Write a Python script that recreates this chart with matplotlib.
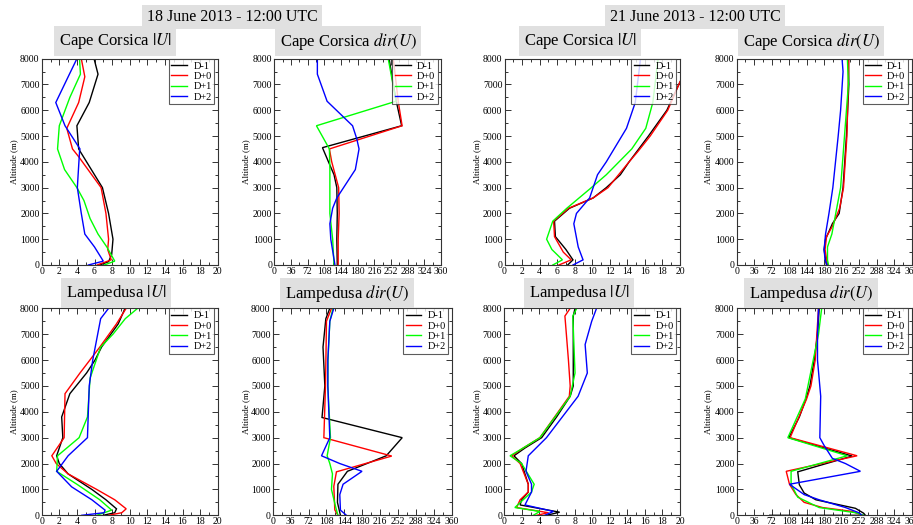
import matplotlib
matplotlib.use("Agg")
import matplotlib.pyplot as plt
from matplotlib.ticker import MultipleLocator

plt.rcParams['font.family'] = ['Liberation Serif', 'DejaVu Serif']
plt.rcParams['mathtext.fontset'] = 'stix'

W, H = 913, 525
DPI = 100

series_labels = ["D-1", "D+0", "D+1", "D+2"]
series_colors = ["#000000", "#ff0000", "#00ff00", "#0000ff"]

day_titles = ["18 June 2013 - 12:00 UTC", "21 June 2013 - 12:00 UTC"]
panel_titles = [
    ["Cape Corsica $|U|$", "Cape Corsica $dir(U)$", "Cape Corsica $|U|$", "Cape Corsica $dir(U)$"],
    ["Lampedusa $|U|$", "Lampedusa $dir(U)$", "Lampedusa $|U|$", "Lampedusa $dir(U)$"],
]
ylabel = "Altitude (m)"
speed_ticks = [0, 2, 4, 6, 8, 10, 12, 14, 16, 18, 20]
dir_ticks = [0, 36, 72, 108, 144, 180, 216, 252, 288, 324, 360]
alt_ticks = [0, 1000, 2000, 3000, 4000, 5000, 6000, 7000, 8000]

# ---------------- data: (altitudes, values) per series ----------------
# Panel 1: 18 June, Cape Corsica |U|
cc18_u_dm1_z = [0, 130, 400, 1000, 2000, 3000, 4500, 5400, 6300, 7400, 8000]
cc18_u_dm1_v = [6.6, 7.6, 7.95, 8.1, 7.6, 6.9, 4.2, 4.0, 5.4, 6.4, 5.95]
cc18_u_d0_z = [0, 200, 600, 1000, 2000, 3000, 4200, 4500, 5300, 6300, 7300, 8000]
cc18_u_d0_v = [6.3, 7.9, 7.5, 7.6, 7.3, 6.75, 4.2, 3.5, 2.85, 4.2, 4.9, 4.5]
cc18_u_d1_z = [0, 150, 700, 1200, 1800, 2500, 3000, 3700, 4500, 5400, 6500, 7400, 8000]
cc18_u_d1_v = [7.1, 8.3, 7.4, 6.4, 5.5, 4.8, 4.0, 2.6, 1.8, 2.0, 3.2, 4.4, 4.3]
cc18_u_d2_z = [0, 150, 700, 1200, 2000, 3000, 4400, 4500, 5400, 6300, 7400, 8000]
cc18_u_d2_v = [5.3, 7.0, 6.0, 4.9, 4.5, 4.05, 4.3, 4.35, 2.65, 1.6, 3.15, 4.0]

# Panel 2: 18 June, Cape Corsica dir(U)
cc18_d_dm1_z = [0, 1000, 2000, 3000, 3500, 4000, 4550, 5400, 6300, 7000, 8000]
cc18_d_dm1_v = [136, 135, 136, 135, 129, 117, 104, 275, 264, 257, 248]
cc18_d_d0_z = [0, 1000, 2000, 3000, 4000, 4500, 5400, 6300, 8000]
cc18_d_d0_v = [138, 138, 140, 139, 124, 119, 276, 268, 257]
cc18_d_d1_z = [0, 1000, 2000, 3700, 4500, 5400, 6350, 8000]
cc18_d_d1_v = [129, 126, 120, 120, 119, 91, 263, 246]
cc18_d_d2_z = [0, 1000, 1600, 2200, 2600, 3700, 4500, 4900, 5400, 6350, 7400, 8000]
cc18_d_d2_v = [131, 122, 120, 126, 135, 175, 183, 178, 169, 114, 93, 93]

# Panel 3: 21 June, Cape Corsica |U|
cc21_u_dm1_z = [0, 200, 600, 1100, 1700, 2200, 2600, 3000, 3500, 4000, 5000, 6000, 7100, 8000]
cc21_u_dm1_v = [7.2, 7.8, 7.0, 5.8, 5.7, 7.4, 10.1, 11.6, 13.2, 14.2, 16.4, 18.5, 20.0, 21.5]
cc21_u_d0_z = [0, 200, 500, 1100, 1700, 2200, 2600, 3000, 4000, 4400, 5000, 6000, 7100, 8000]
cc21_u_d0_v = [6.2, 7.6, 6.7, 5.7, 5.6, 7.3, 10.1, 11.8, 14.2, 15.2, 16.6, 18.6, 20.0, 21.5]
cc21_u_d1_z = [0, 200, 600, 1000, 1700, 2200, 3000, 3500, 4500, 5300, 6300, 8000]
cc21_u_d1_v = [5.5, 6.6, 5.4, 4.8, 5.5, 7.1, 9.9, 11.6, 14.5, 16.1, 16.9, 17.5]
cc21_u_d2_z = [0, 200, 700, 1600, 2000, 2600, 3000, 3500, 4000, 5300, 6300, 8000]
cc21_u_d2_v = [7.8, 8.95, 8.4, 7.9, 8.2, 9.7, 10.1, 10.6, 11.6, 13.9, 14.9, 15.5]

# Panel 4: 21 June, Cape Corsica dir(U)
cc21_d_dm1_z = [0, 200, 600, 1000, 1600, 2000, 3000, 5000, 7000, 8000]
cc21_d_dm1_v = [185, 183, 180, 183, 197, 211, 219, 226, 231, 230]
cc21_d_d0_z = [0, 600, 1100, 1500, 2200, 3000, 5000, 8000]
cc21_d_d0_v = [187, 182, 185, 197, 212, 220, 227, 231]
cc21_d_d1_z = [0, 200, 700, 1200, 2000, 3000, 5000, 7000, 8000]
cc21_d_d1_v = [189, 187, 187, 196, 204, 214, 222, 230, 228]
cc21_d_d2_z = [0, 200, 600, 1200, 2000, 3000, 5000, 6000, 7500, 8000]
cc21_d_d2_v = [186, 182, 180, 183, 190, 198, 209, 214, 219, 217]

# Panel 5: 18 June, Lampedusa |U|
la18_u_dm1_z = [0, 100, 250, 600, 1000, 1600, 2000, 2300, 3000, 3800, 4700, 5500, 6000, 6500, 7400, 8000]
la18_u_dm1_v = [7.0, 8.3, 8.5, 7.3, 5.7, 3.0, 2.0, 1.7, 2.4, 2.27, 3.2, 5.1, 6.06, 6.8, 8.7, 9.47]
la18_u_d0_z = [0, 100, 250, 600, 1000, 1600, 2000, 2300, 3000, 4700, 5500, 6500, 7400, 8000]
la18_u_d0_v = [7.6, 9.1, 9.6, 8.3, 6.25, 3.0, 1.65, 1.15, 2.55, 2.65, 4.35, 6.6, 8.5, 9.6]
la18_u_d1_z = [0, 200, 600, 1200, 1700, 2300, 3000, 3800, 5300, 6500, 7000, 7600, 8000]
la18_u_d1_v = [6.25, 7.95, 6.6, 4.0, 1.7, 1.8, 4.25, 5.2, 5.5, 6.7, 8.1, 9.5, 10.9]
la18_u_d2_z = [0, 100, 200, 600, 1100, 1700, 2300, 3000, 5000, 6000, 6800, 7600, 8000]
la18_u_d2_v = [4.55, 7.1, 7.2, 5.7, 3.4, 1.7, 3.0, 5.2, 5.4, 5.8, 6.25, 6.7, 7.6]

# Panel 6: 18 June, Lampedusa dir(U)
la18_d_dm1_z = [0, 500, 1200, 1700, 2300, 3000, 3780, 5000, 6500, 7600, 8000]
la18_d_dm1_v = [136, 130, 131, 150, 228, 260, 99, 104.7, 101, 106.7, 114.7]
la18_d_d0_z = [0, 210, 1120, 1680, 2290, 3000, 5000, 7500, 8000]
la18_d_d0_v = [131, 124.7, 122.7, 128, 239, 102.7, 106, 108, 118]
la18_d_d1_z = [0, 300, 1000, 1600, 2000, 2300, 3000, 5000, 6000, 7500, 8000]
la18_d_d1_v = [131, 126.7, 118, 120, 114.7, 109.3, 116, 110.7, 111, 114.7, 121]
la18_d_d2_z = [0, 200, 800, 1200, 1700, 2000, 2300, 3000, 5000, 6000, 7500, 8000]
la18_d_d2_v = [148, 136, 134.7, 141.3, 179.3, 134.7, 98, 114.7, 110.7, 110.7, 114.7, 122.7]

# Panel 7: 21 June, Lampedusa |U|
la21_u_dm1_z = [0, 120, 400, 600, 900, 1200, 2000, 2300, 2600, 3000, 3800, 4600, 5000, 7700, 8000]
la21_u_dm1_v = [4.8, 6.3, 1.8, 1.97, 2.73, 2.73, 1.97, 1.1, 2.35, 4.25, 5.95, 7.5, 7.85, 7.85, 8.05]
la21_u_d0_z = [0, 100, 300, 600, 900, 1200, 2000, 2300, 2600, 3000, 4600, 5000, 6000, 7700, 8000]
la21_u_d0_v = [3.7, 5.0, 1.4, 1.8, 2.73, 2.73, 1.8, 0.85, 2.15, 4.05, 7.4, 7.5, 7.3, 6.9, 7.5]
la21_u_d1_z = [0, 150, 300, 600, 900, 1200, 2000, 2300, 2600, 3000, 4600, 5500, 7700, 8000]
la21_u_d1_v = [3.3, 4.05, 1.2, 2.15, 3.1, 3.4, 1.97, 0.65, 2.15, 4.05, 7.5, 8.05, 7.8, 8.25]
la21_u_d2_z = [0, 150, 400, 900, 1200, 1700, 2300, 3000, 4600, 5500, 6600, 7500, 8000]
la21_u_d2_v = [4.6, 5.6, 2.35, 3.1, 3.1, 2.47, 2.73, 4.8, 8.4, 9.45, 9.2, 9.95, 10.5]

# Panel 8: 21 June, Lampedusa dir(U)
la21_d_dm1_z = [0, 0, 80, 270, 600, 860, 1180, 1680, 2290, 3000, 3800, 4500, 5000, 6000, 7000, 8000]
la21_d_dm1_v = [68, 265, 261.5, 244.6, 163, 139, 129, 125.7, 237.8, 107.3, 129, 142.7, 150.8, 159.6, 166.4, 170]
la21_d_d0_z = [0, 150, 300, 500, 800, 1200, 1700, 2300, 3000, 4500, 5000, 6000, 8000]
la21_d_d0_v = [258, 237.8, 176.6, 139, 122, 108.7, 102, 248, 110, 144, 152.9, 161.7, 168.5]
la21_d_d1_z = [0, 100, 300, 700, 1200, 1700, 2300, 3000, 4500, 6000, 7000, 8000]
la21_d_d1_v = [261.5, 244.6, 169.8, 125.7, 112, 112, 227.6, 105.3, 141.3, 157.6, 168.5, 175]
la21_d_d2_z = [0, 100, 300, 600, 800, 1200, 1700, 2000, 2200, 2700, 3000, 4600, 6000, 7000, 8000]
la21_d_d2_v = [258, 251.4, 224, 169.8, 139, 108.7, 254.8, 224, 197, 180, 171.2, 173, 166.4, 166.4, 168.5]

panels = [
    [
        ([cc18_u_dm1_z, cc18_u_d0_z, cc18_u_d1_z, cc18_u_d2_z], [cc18_u_dm1_v, cc18_u_d0_v, cc18_u_d1_v, cc18_u_d2_v], "u"),
        ([cc18_d_dm1_z, cc18_d_d0_z, cc18_d_d1_z, cc18_d_d2_z], [cc18_d_dm1_v, cc18_d_d0_v, cc18_d_d1_v, cc18_d_d2_v], "d"),
        ([cc21_u_dm1_z, cc21_u_d0_z, cc21_u_d1_z, cc21_u_d2_z], [cc21_u_dm1_v, cc21_u_d0_v, cc21_u_d1_v, cc21_u_d2_v], "u"),
        ([cc21_d_dm1_z, cc21_d_d0_z, cc21_d_d1_z, cc21_d_d2_z], [cc21_d_dm1_v, cc21_d_d0_v, cc21_d_d1_v, cc21_d_d2_v], "d"),
    ],
    [
        ([la18_u_dm1_z, la18_u_d0_z, la18_u_d1_z, la18_u_d2_z], [la18_u_dm1_v, la18_u_d0_v, la18_u_d1_v, la18_u_d2_v], "u"),
        ([la18_d_dm1_z, la18_d_d0_z, la18_d_d1_z, la18_d_d2_z], [la18_d_dm1_v, la18_d_d0_v, la18_d_d1_v, la18_d_d2_v], "d"),
        ([la21_u_dm1_z, la21_u_d0_z, la21_u_d1_z, la21_u_d2_z], [la21_u_dm1_v, la21_u_d0_v, la21_u_d1_v, la21_u_d2_v], "u"),
        ([la21_d_dm1_z, la21_d_d0_z, la21_d_d1_z, la21_d_d2_z], [la21_d_dm1_v, la21_d_d0_v, la21_d_d1_v, la21_d_d2_v], "d"),
    ],
]

# ---------------- layout (pixels) ----------------
col_x = [
    [(41.7, 217.7), (274.3, 441.0), (504.5, 680.0), (736.7, 911.5)],
    [(41.7, 217.7), (272.7, 452.0), (504.3, 680.0), (736.7, 911.5)],
]
row_y = [(58.7, 265.0), (308.3, 515.3)]
title_cx = [[115, 348, 580, 811], [116, 347, 579, 811]]
title_cy = [41, 293]
ylabel_x = [14, 246, 477, 708]
day_cx = [232, 695]
day_cy = 17

fig = plt.figure(figsize=(W / DPI, H / DPI), dpi=DPI)
fig.patch.set_facecolor("white")

def fx(px):
    return px / W

def fy(py):
    return 1 - py / H

for r in range(2):
    for c in range(4):
        x0, x1 = col_x[r][c]
        y0, y1 = row_y[r]
        ax = fig.add_axes([fx(x0), fy(y1), (x1 - x0) / W, (y1 - y0) / H])
        zs, vs, kind = panels[r][c]
        for z, v, lab, col in zip(zs, vs, series_labels, series_colors):
            ax.plot(v, z, color=col, lw=1.0, label=lab, solid_joinstyle="miter")
        ax.set_ylim(0, 8000)
        if kind == "u":
            ax.set_xlim(0, 20)
            ax.set_xticks(speed_ticks)
            ax.xaxis.set_minor_locator(MultipleLocator(1))
        else:
            ax.set_xlim(0, 360)
            ax.set_xticks(dir_ticks)
            ax.xaxis.set_minor_locator(MultipleLocator(18))
        ax.set_yticks(alt_ticks)
        ax.yaxis.set_minor_locator(MultipleLocator(500))
        ax.tick_params(which="both", direction="in", top=True, right=True,
                       labelsize=7, width=0.7, pad=1.5, colors="#333333", labelcolor="black")
        ax.tick_params(which="major", length=4.5)
        ax.tick_params(which="minor", length=2.5)
        for s in ax.spines.values():
            s.set_linewidth(0.8)
            s.set_color("#333333")
        leg = ax.legend(loc="upper right", bbox_to_anchor=(0.98, 1.0), borderaxespad=0.0,
                        fontsize=7.5, frameon=True, fancybox=False, handlelength=1.5,
                        handletextpad=0.6, labelspacing=0.1, borderpad=0.25)
        leg.get_frame().set_edgecolor("#333333")
        leg.get_frame().set_linewidth(0.8)
        fig.text(fx(ylabel_x[c]), fy((y0 + y1) / 2), ylabel, rotation=90,
                 ha="center", va="center", fontsize=6.5)
        fig.text(fx(title_cx[r][c]), fy(title_cy[r]), panel_titles[r][c],
                 ha="center", va="center", fontsize=12,
                 bbox=dict(facecolor="#e0e0e0", edgecolor="none", pad=3.5))

for k in range(2):
    fig.text(fx(day_cx[k]), fy(day_cy), day_titles[k], ha="center", va="center",
             fontsize=11.5, bbox=dict(facecolor="#e0e0e0", edgecolor="none", pad=3.0))

fig.savefig("out.png", dpi=DPI, facecolor="white")
